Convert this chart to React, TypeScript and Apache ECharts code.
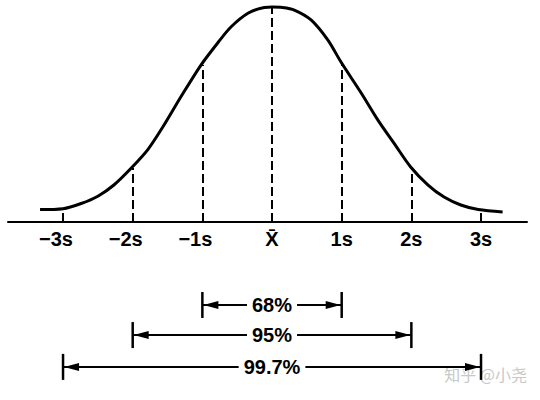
import React, { useEffect, useRef } from "react";
import * as echarts from "echarts";

// Bell curve (x in units of s, height relative to the peak)
const curveX = [-3.33, -3.0, -2.74, -2.5, -2.27, -2.02, -1.78, -1.55, -1.31, -1.02, -0.77, -0.59, -0.34, -0.11, 0, 0.15, 0.32, 0.56, 0.8, 0.99, 1.28, 1.52, 1.75, 1.99, 2.24, 2.47, 2.71, 2.96, 3.31];
const curveY = [0.058, 0.062, 0.086, 0.12, 0.172, 0.251, 0.338, 0.451, 0.581, 0.73, 0.837, 0.907, 0.972, 0.998, 1.0, 0.998, 0.986, 0.94, 0.847, 0.744, 0.6, 0.474, 0.367, 0.256, 0.172, 0.116, 0.079, 0.058, 0.047];

// Dashed verticals at the tick positions
const dashX = [-3, -2, -1, 0, 1, 2, 3];
const dashTop = [0.062, 0.251, 0.73, 1.0, 0.744, 0.256, 0.058];

// Tick labels
const tickValues = [-3, -2, -1, 0, 1, 2, 3];
const tickLabels = ["−3s", "−2s", "−1s", "X̄", "1s", "2s", "3s"];

// Coverage ranges (rows below the axis, same units as the curve height)
const rangeLeft = [-1, -2, -3];
const rangeRight = [1, 2, 3];
const rangeRow = [-0.386, -0.526, -0.674];
const rangeLabels = ["68%", "95%", "99.7%"];

const FONT = '"Liberation Sans", Arial, sans-serif';
const X_MIN = -3.79;
const X_MAX = 3.66;

export default function App() {
  const ref = useRef<HTMLDivElement>(null);
  useEffect(() => {
    if (!ref.current) return;
    const chart = echarts.init(ref.current, null, { renderer: "svg" });
    const option: any = {
      animation: false,
      backgroundColor: "#ffffff",
      grid: [
        { left: 8, right: 13, top: 7, bottom: 178, outerBoundsMode: "none", containLabel: false },
        { left: 8, right: 13, top: 222, bottom: 0, outerBoundsMode: "none", containLabel: false },
      ],
      xAxis: [
        {
          type: "value",
          gridIndex: 0,
          min: X_MIN,
          max: X_MAX,
          position: "bottom",
          splitLine: { show: false },
          axisTick: { show: false },
          axisLine: { show: true, onZero: false, lineStyle: { color: "#000", width: 2 } },
          axisLabel: {
            customValues: tickValues,
            margin: 7,
            color: "#000",
            fontSize: 20,
            fontWeight: "bold",
            fontFamily: FONT,
            formatter: (v: number) => {
              const i = tickValues.indexOf(Math.round(v));
              const t = i >= 0 ? tickLabels[i] : "";
              return v < 0 ? "{n|" + t + "}" : t;
            },
            rich: {
              n: {
                color: "#000",
                fontSize: 20,
                fontWeight: "bold",
                fontFamily: FONT,
                padding: [0, 14, 0, 0],
              },
            },
          },
        },
        {
          type: "value",
          gridIndex: 1,
          min: X_MIN,
          max: X_MAX,
          show: false,
        },
      ],
      yAxis: [
        { type: "value", gridIndex: 0, min: 0, max: 1.0, show: false },
        { type: "value", gridIndex: 1, min: -0.828, max: 0, show: false },
      ],
      graphic: [
        {
          type: "text",
          right: 13,
          top: 366,
          z: -1,
          style: { text: "知乎 @小尧", fill: "#c8c8c8", font: '16px "Noto Sans CJK SC"' },
        },
      ],
      series: [
        {
          type: "line",
          xAxisIndex: 0,
          yAxisIndex: 0,
          data: curveX.map((x, i) => [x, curveY[i]]),
          smooth: 0.3,
          symbol: "none",
          clip: false,
          lineStyle: { color: "#000", width: 3 },
          z: 3,
          markLine: {
            silent: true,
            symbol: ["none", "none"],
            label: { show: false },
            lineStyle: { color: "#000", width: 2, type: [9, 4] },
            data: dashX.map((x, i) => [{ coord: [x, 0] }, { coord: [x, dashTop[i]] }]),
          },
        },
        {
          type: "custom",
          xAxisIndex: 1,
          yAxisIndex: 1,
          clip: false,
          data: rangeLeft.map((l, i) => [l, rangeRight[i], rangeRow[i]]),
          encode: { x: [0, 1], y: 2 },
          renderItem: (params: any, api: any) => {
            const a = api.coord([api.value(0), api.value(2)]);
            const b = api.coord([api.value(1), api.value(2)]);
            const y = a[1];
            const h = 13;
            const s = { stroke: "#000", lineWidth: 2 };
            return {
              type: "group",
              children: [
                { type: "line", shape: { x1: a[0], y1: y, x2: b[0], y2: y }, style: s },
                { type: "line", shape: { x1: a[0], y1: y - h, x2: a[0], y2: y + h }, style: { stroke: "#000", lineWidth: 2.5 } },
                { type: "line", shape: { x1: b[0], y1: y - h, x2: b[0], y2: y + h }, style: { stroke: "#000", lineWidth: 2.5 } },
                { type: "polygon", shape: { points: [[a[0] + 1, y], [a[0] + 16, y - 4], [a[0] + 16, y + 4]] }, style: { fill: "#000" } },
                { type: "polygon", shape: { points: [[b[0] - 1, y], [b[0] - 16, y - 4], [b[0] - 16, y + 4]] }, style: { fill: "#000" } },
                {
                  type: "text",
                  style: {
                    text: rangeLabels[params.dataIndex],
                    x: (a[0] + b[0]) / 2,
                    y: y,
                    align: "center",
                    verticalAlign: "middle",
                    font: "bold 20px " + FONT,
                    fill: "#000",
                    backgroundColor: "#fff",
                    padding: [0, 5],
                  },
                },
              ],
            };
          },
        },
      ],
    };
    chart.setOption(option);
    return () => chart.dispose();
  }, []);
  return (
    <div
      ref={ref}
      style={{ position: "absolute", left: 0, top: 0, width: 540, height: 400, background: "#fff" }}
    />
  );
}
